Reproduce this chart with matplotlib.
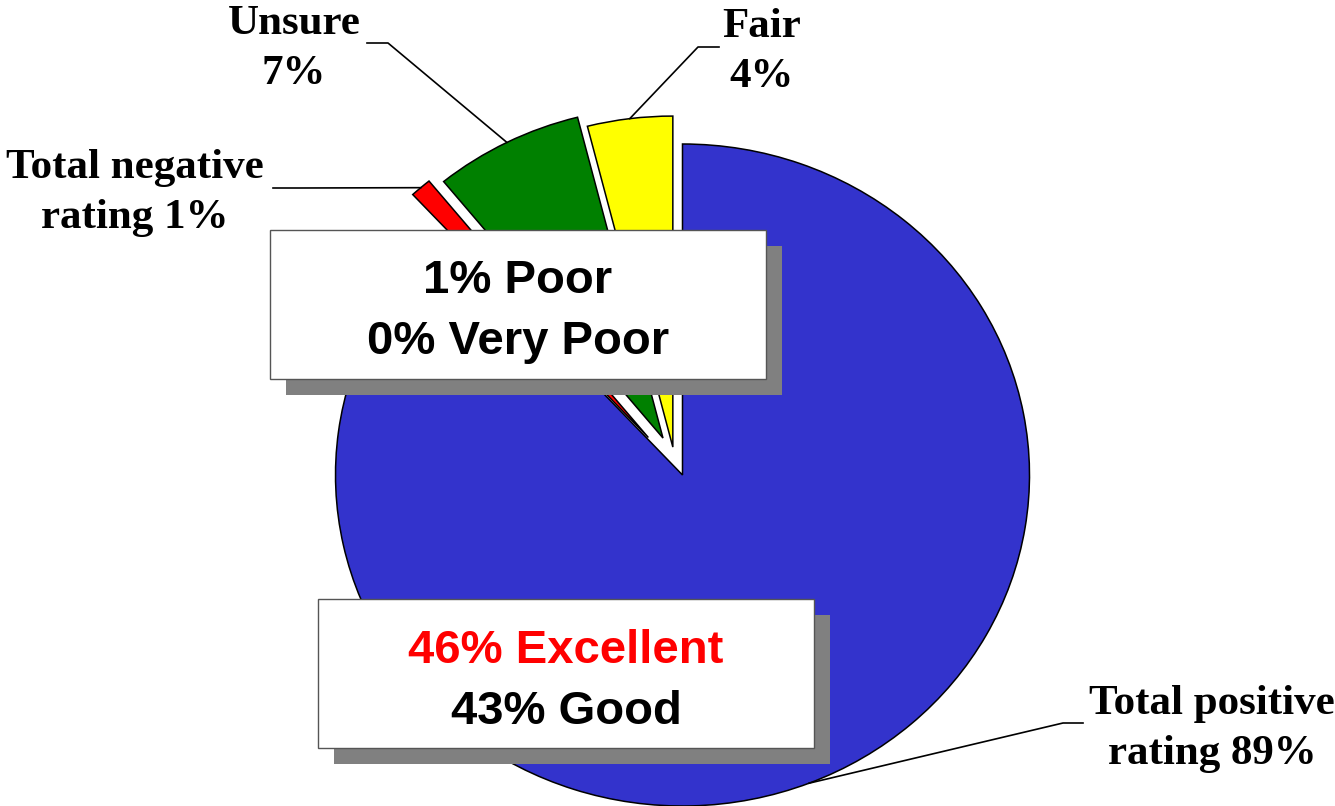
import numpy as np
import matplotlib
matplotlib.use("Agg")
import matplotlib.pyplot as plt
from matplotlib.patches import Rectangle

# slice data (clockwise from 12 o'clock)
slice_names = ["Total positive", "Total negative", "Unsure", "Fair"]
slice_values = [89, 1, 7, 4]
slice_colors = ["#3333CC", "#FF0000", "#008000", "#FFFF00"]
slice_explode = [0, 0.15, 0.125, 0.085]

# callout labels, one entry per slice
callout_lines = [["Total positive", "rating 89%"],
                 ["Total negative", "rating 1%"],
                 ["Unsure", "7%"],
                 ["Fair", "4%"]]

# breakdown boxes
neg_box_lines = ["1% Poor", "0% Very Poor"]
pos_box_lines = ["46% Excellent", "43% Good"]
pos_box_colors = ["#FF0000", "black"]

W, H = 1335, 806
fig = plt.figure(figsize=(W / 100, H / 100), dpi=100)

# pie axes: unit circle stretched into the slightly wide ellipse of the original
cx, cy, rx, ry = 682.5, 475, 347, 331
ax = fig.add_axes([0, 0, 1, 1])
wedges, _ = ax.pie(slice_values, colors=slice_colors, explode=slice_explode,
                   startangle=90, counterclock=False, radius=1,
                   wedgeprops=dict(edgecolor="black", linewidth=1.1))
# fair slice sits a bit further left of the blue one in the original
fx, fy = wedges[3].center
wedges[3].set_center((fx - 6 / rx, fy))
ax.set_aspect("auto")
ax.set_xlim(-cx / rx, (W - cx) / rx)
ax.set_ylim(-(H - cy) / ry, cy / ry)
ax.axis("off")

# overlay in pixel coords for boxes / callouts
ann = fig.add_axes([0, 0, 1, 1])
ann.set_xlim(0, W)
ann.set_ylim(H, 0)
ann.axis("off")

to_px = lambda p: ann.transData.inverted().transform(ax.transData.transform(p))

serif = dict(family="Liberation Serif", weight="bold", size=31)
sans = dict(family="Liberation Sans", weight="bold", size=34)

# text centre x, first baseline, elbow start, elbow end
callout_pos = [(1212, 714, (1083, 723), (1063, 723)),
               (135, 178, (273, 188), (300, 188)),
               (294, 34, (367, 43), (388, 43)),
               (762, 37, (719, 47), (698, 47))]

for w, lines, (tx, ty, p0, p1) in zip(wedges, callout_lines, callout_pos):
    mid = np.deg2rad((w.theta1 + w.theta2) / 2)
    tip = to_px((w.center[0] + w.r * np.cos(mid), w.center[1] + w.r * np.sin(mid)))
    ann.plot([p0[0], p1[0], tip[0]], [p0[1], p1[1], tip[1]], color="black", lw=1.2)
    for i, s in enumerate(lines):
        ann.text(tx, ty + i * 50, s, ha="center", va="baseline", **serif)


def box(x0, y0, x1, y1, lines, colors, base):
    ann.add_patch(Rectangle((x0 + 16, y0 + 16), x1 - x0, y1 - y0,
                            facecolor="#808080", edgecolor="none"))
    ann.add_patch(Rectangle((x0, y0), x1 - x0, y1 - y0,
                            facecolor="white", edgecolor="#555555", lw=1.0))
    for i, (s, c) in enumerate(zip(lines, colors)):
        ann.text((x0 + x1) / 2, base + i * 61, s, ha="center", va="baseline",
                 color=c, **sans)


box(270, 230, 766, 379, neg_box_lines, ["black", "black"], 293)
box(318, 599, 814, 748, pos_box_lines, pos_box_colors, 663)

fig.savefig("out.png", dpi=100, facecolor="white")
